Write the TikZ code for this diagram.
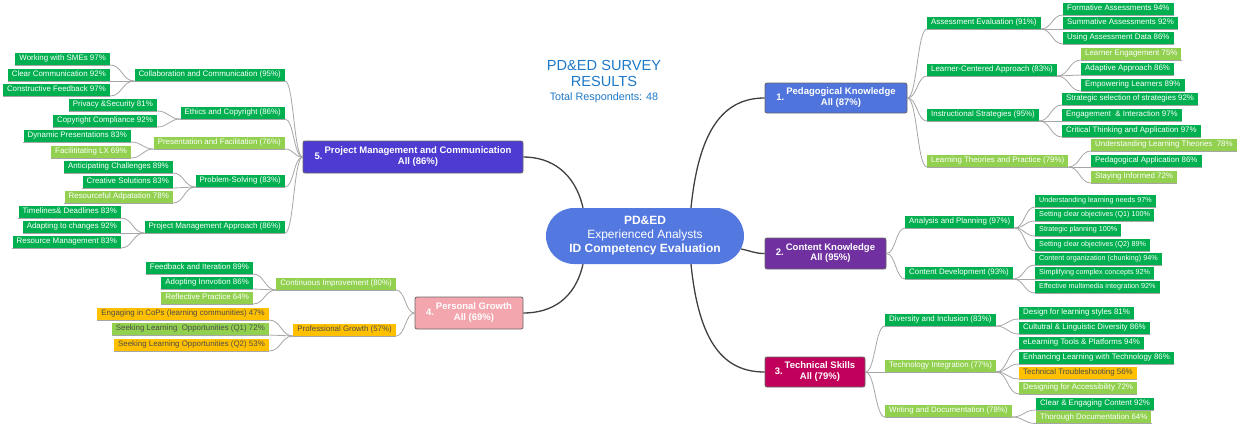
\documentclass[tikz,border=0pt]{standalone}
\usepackage{fontspec}
\setmainfont{Liberation Sans}
\usetikzlibrary{calc}
\definecolor{dgreen}{HTML}{00B050}
\definecolor{lgreen}{HTML}{92D050}
\definecolor{orng}{HTML}{FFC000}
\definecolor{dtext}{HTML}{4D4D4D}
\definecolor{subline}{HTML}{A6A6A6}
\definecolor{mainline}{HTML}{404040}
\definecolor{cblue}{HTML}{5378E0}
\definecolor{pblue}{HTML}{4F75DC}
\definecolor{cpurple}{HTML}{7030A0}
\definecolor{cmag}{HTML}{C0005A}
\definecolor{cpink}{HTML}{F4A6AE}
\definecolor{cindigo}{HTML}{4E3BD2}
\definecolor{ttl}{HTML}{1E79C8}
\newcommand\mainlbl[3]{\begin{tabular}{@{}l@{\hspace{2pt}}c@{}}#1&\begin{tabular}{@{}c@{}}#2\\#3\end{tabular}\end{tabular}}
\tikzset{
 box/.style={inner xsep=4pt, inner ysep=0pt, minimum height=12pt, text=white,
   text height=5.7pt, text depth=1.5pt,
   font=\fontsize{7.9}{9}\selectfont,
   append after command={(\tikzlastnode.south west) edge[draw=subline,line width=0.8pt] (\tikzlastnode.south east)}},
 sm/.style={font=\fontsize{7.2}{8.5}\selectfont, minimum height=11.5pt, text height=5.2pt, text depth=1.4pt},
 dg/.style={box, fill=dgreen},
 lg/.style={box, fill=lgreen},
 lgd/.style={box, fill=lgreen, text=dtext},
 og/.style={box, fill=orng, text=dtext},
 R/.style={anchor=south west},
 L/.style={anchor=south east},
 mainbox/.style={draw=black!60, line width=0.8pt, rounded corners=2pt, text=white,
   font=\fontsize{9.5}{10.5}\selectfont\bfseries, inner sep=0pt},
 mainln/.style={draw=mainline, line width=1.3pt},
 subln/.style={draw=subline, line width=0.8pt},
 brk/.style={to path={let \p1=(\tikztostart), \p2=(\tikztotarget) in
   .. controls ({0.5*\x1+0.5*\x2},\y1) and ({0.5*\x1+0.5*\x2},\y2) .. (\tikztotarget)}},
 ttlstyle/.style={text=ttl, inner sep=0pt, anchor=base},
}
\begin{document}
\begin{tikzpicture}[x=1pt,y=-1pt]
\fill[white] (0,0) rectangle (1240,424);
\useasboundingbox (0,0) rectangle (1240,424);

% title
\node[ttlstyle, font=\fontsize{14.6}{17}\selectfont] (t1) at (604,70) {PD\&ED SURVEY};
\node[ttlstyle, font=\fontsize{14.6}{17}\selectfont] (t2) at (604,86) {RESULTS};
\node[ttlstyle, font=\fontsize{10.8}{13}\selectfont] (t3) at (604,100) {Total Respondents: 48};

% central
\node[fill=cblue, rounded corners=28pt, minimum width=198pt, minimum height=56pt, text=white,
  align=center, font=\fontsize{12}{14}\selectfont, inner sep=0pt] (c) at (645,236)
  {\textbf{PD\&ED}\\Experienced Analysts\\\textbf{ID Competency Evaluation}};

% main boxes
\node[mainbox, fill=pblue, minimum width=142pt, minimum height=30pt] (p1) at (836,98) {\mainlbl{1.}{Pedagogical Knowledge}{All (87\%)}};
\node[mainbox, fill=cpurple, minimum width=121pt, minimum height=31pt] (p2) at (825.5,253.5) {\mainlbl{2.}{Content Knowledge}{All (95\%)}};
\node[mainbox, fill=cmag, minimum width=100pt, minimum height=30pt] (p3) at (815,372) {\mainlbl{3.}{Technical Skills}{All (79\%)}};
\node[mainbox, fill=cpink, minimum width=108pt, minimum height=32pt] (p4) at (469,313) {\mainlbl{4.}{Personal Growth}{All (69\%)}};
\node[mainbox, fill=cindigo, minimum width=220pt, minimum height=32pt] (p5) at (413,157) {\mainlbl{5.}{Project Management and Communication}{All (86\%)}};

% branch 1
\node[dg,R] (ae) at (927,29) {Assessment Evaluation (91\%)};
\node[dg,R] (a1) at (1063,15) {Formative Assessments 94\%};
\node[dg,R] (a2) at (1063,29) {Summative Assessments 92\%};
\node[dg,R] (a3) at (1063,44) {Using Assessment Data 86\%};
\node[dg,R] (lc) at (927,76) {Learner-Centered Approach (83\%)};
\node[lg,R] (l1) at (1081,60) {Learner Engagement 75\%};
\node[dg,R] (l2) at (1081,75) {Adaptive Approach 86\%};
\node[dg,R] (l3) at (1081,91) {Empowering Learners 89\%};
\node[dg,R] (is) at (927,121) {Instructional Strategies (95\%)};
\node[dg,R] (i1) at (1062,105) {Strategic selection of strategies 92\%};
\node[dg,R] (i2) at (1062,121) {Engagement\ \ \& Interaction 97\%};
\node[dg,R] (i3) at (1062,137) {Critical Thinking and Application 97\%};
\node[lg,R] (lt) at (927,167) {Learning Theories and Practice (79\%)};
\node[lg,R] (u1) at (1091,151) {Understanding Learning Theories\ \ 78\%};
\node[dg,R] (u2) at (1091,167) {Pedagogical Application 86\%};
\node[lg,R] (u3) at (1091,183) {Staying Informed 72\%};

% branch 2
\node[dg,R] (ap) at (905,228) {Analysis and Planning (97\%)};
\node[dg,R,sm] (n1) at (1035,207) {Understanding learning needs 97\%};
\node[dg,R,sm] (n2) at (1035,221) {Setting clear objectives (Q1) 100\%};
\node[dg,R,sm] (n3) at (1035,236) {Strategic planning 100\%};
\node[dg,R,sm] (n4) at (1035,251) {Setting clear objectives (Q2) 89\%};
\node[dg,R] (cd) at (905,279) {Content Development (93\%)};
\node[dg,R,sm] (d1) at (1035,265) {Content organization (chunking) 94\%};
\node[dg,R,sm] (d2) at (1035,279) {Simplifying complex concepts 92\%};
\node[dg,R,sm] (d3) at (1035,293) {Effective multimedia integration 92\%};

% branch 3
\node[dg,R] (di) at (885,326) {Diversity and Inclusion (83\%)};
\node[dg,R] (s1) at (1019,319) {Design for learning styles 81\%};
\node[dg,R] (s2) at (1019,334) {Cultutral \& Linguistic Diversity 86\%};
\node[lg,R] (ti) at (885,372) {Technology Integration (77\%)};
\node[dg,R] (e1) at (1019,349) {eLearning Tools \& Platforms 94\%};
\node[dg,R] (e2) at (1019,364) {Enhancing Learning with Technology 86\%};
\node[og,R] (e3) at (1019,379) {Technical Troubleshooting 56\%};
\node[lg,R] (e4) at (1019,394) {Designing for Accessibility 72\%};
\node[lg,R] (wd) at (885,417) {Writing and Documentation (78\%)};
\node[dg,R] (w1) at (1036,410) {Clear \& Engaging Content 92\%};
\node[lg,R] (w2) at (1036,423.5) {Thorough Documentation 64\%};

% branch 5
\node[dg,L] (cc) at (285,81) {Collaboration and Communication (95\%)};
\node[dg,L] (c1) at (110,65) {Working with SMEs 97\%};
\node[dg,L] (c2) at (110,81) {Clear Communication 92\%};
\node[dg,L] (c3) at (110,96) {Constructive Feedback 97\%};
\node[dg,L] (ec) at (285,119) {Ethics and Copyright (86\%)};
\node[dg,L] (h1) at (157,111) {Privacy \&Security 81\%};
\node[dg,L] (h2) at (157,127) {Copyright Compliance 92\%};
\node[lg,L] (pf) at (285,149) {Presentation and Facilitation (76\%)};
\node[dg,L] (f1) at (131,142) {Dynamic Presentations 83\%};
\node[lg,L] (f2) at (131,158) {Facilititating LX 69\%};
\node[dg,L] (ps) at (285,187) {Problem-Solving (83\%)};
\node[dg,L] (r1) at (173,173) {Anticipating Challenges 89\%};
\node[dg,L] (r2) at (173,188) {Creative Solutions 83\%};
\node[lg,L] (r3) at (173,203) {Resourceful Adpatation 78\%};
\node[dg,L] (pm) at (285,233) {Project Management Approach (86\%)};
\node[dg,L] (m1) at (121,218) {Timelines\& Deadlines 83\%};
\node[dg,L] (m2) at (121,233) {Adapting to changes 92\%};
\node[dg,L] (m3) at (121,248) {Resource Management 83\%};

% branch 4
\node[lg,L] (ci) at (396,290) {Continuous Improvement (80\%)};
\node[dg,L] (g1) at (253,274) {Feedback and Iteration 89\%};
\node[dg,L] (g2) at (253,289) {Adopting Innvotion 86\%};
\node[lg,L] (g3) at (253,304) {Reflective Practice 64\%};
\node[og,L] (pg) at (396,336) {Professional Growth (57\%)};
\node[og,L] (q1) at (269,320) {Engaging in CoPs (learning communities) 47\%};
\node[lgd,L] (q2) at (269,335) {Seeking Learning\ \ Opportunities (Q1) 72\%};
\node[og,L] (q3) at (269,351) {Seeking Learning Opportunities (Q2) 53\%};

% main connectors
\draw[mainln] ([xshift=46pt]c.north) .. controls +(8,-80) and +(-40,0) .. (p1.west);
\draw[mainln] ([xshift=-3pt,yshift=-13pt]c.east) .. controls +(10,2) and +(-10,0) .. (p2.west);
\draw[mainln] ([xshift=46pt]c.south) .. controls +(8,80) and +(-40,0) .. (p3.west);
\draw[mainln] ([xshift=-62pt]c.south) .. controls +(-8,35) and +(28,0) .. (p4.east);
\draw[mainln] ([xshift=-62pt]c.north) .. controls +(-8,-35) and +(28,0) .. (p5.east);

% sub connectors
\foreach \s in {ae,lc,is,lt} \draw[subln] (p1.east) to[brk] (\s.south west);
\foreach \s in {ap,cd} \draw[subln] (p2.east) to[brk] (\s.south west);
\foreach \s in {di,ti,wd} \draw[subln] (p3.east) to[brk] (\s.south west);
\foreach \s in {cc,ec,pf,ps,pm} \draw[subln] (p5.west) to[brk] (\s.south east);
\foreach \s in {ci,pg} \draw[subln] (p4.west) to[brk] (\s.south east);

% leaf connectors
\foreach \s in {a1,a2,a3} \draw[subln] (ae.south east) to[brk] (\s.south west);
\foreach \s in {l1,l2,l3} \draw[subln] (lc.south east) to[brk] (\s.south west);
\foreach \s in {i1,i2,i3} \draw[subln] (is.south east) to[brk] (\s.south west);
\foreach \s in {u1,u2,u3} \draw[subln] (lt.south east) to[brk] (\s.south west);
\foreach \s in {n1,n2,n3,n4} \draw[subln] (ap.south east) to[brk] (\s.south west);
\foreach \s in {d1,d2,d3} \draw[subln] (cd.south east) to[brk] (\s.south west);
\foreach \s in {s1,s2} \draw[subln] (di.south east) to[brk] (\s.south west);
\foreach \s in {e1,e2,e3,e4} \draw[subln] (ti.south east) to[brk] (\s.south west);
\foreach \s in {w1,w2} \draw[subln] (wd.south east) to[brk] (\s.south west);
\foreach \s in {c1,c2,c3} \draw[subln] (cc.south west) to[brk] (\s.south east);
\foreach \s in {h1,h2} \draw[subln] (ec.south west) to[brk] (\s.south east);
\foreach \s in {f1,f2} \draw[subln] (pf.south west) to[brk] (\s.south east);
\foreach \s in {r1,r2,r3} \draw[subln] (ps.south west) to[brk] (\s.south east);
\foreach \s in {m1,m2,m3} \draw[subln] (pm.south west) to[brk] (\s.south east);
\foreach \s in {g1,g2,g3} \draw[subln] (ci.south west) to[brk] (\s.south east);
\foreach \s in {q1,q2,q3} \draw[subln] (pg.south west) to[brk] (\s.south east);
\end{tikzpicture}
\end{document}
